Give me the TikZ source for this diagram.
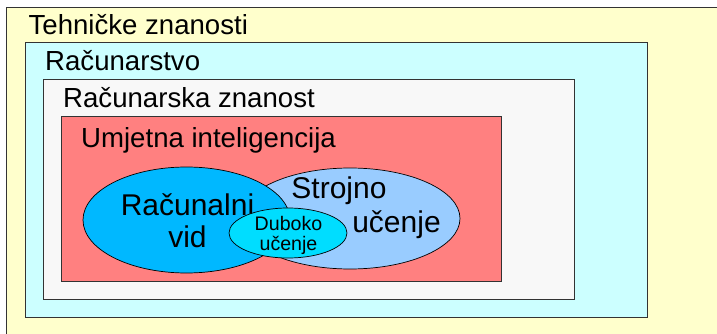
\documentclass[tikz,border=0pt]{standalone}
\usepackage{fontspec}
\setmainfont{Liberation Sans}
\usetikzlibrary{shapes.geometric}
\definecolor{cyel}{HTML}{FFFFCC}
\definecolor{ccyan}{HTML}{CCFFFF}
\definecolor{cgray}{HTML}{F8F8F8}
\definecolor{cred}{HTML}{FF8080}
\definecolor{cblue}{HTML}{00B8FF}
\definecolor{clblue}{HTML}{99CCFF}
\definecolor{cdeep}{HTML}{00DDFF}
\definecolor{cline}{HTML}{333333}
\tikzset{
  box/.style={draw=cline, line width=0.8pt},
  ell/.style={ellipse, draw=black, line width=0.7pt, inner sep=0pt},
  title/.style={anchor=base west, inner sep=0pt, font=\fontsize{27.6}{30}\selectfont},
  big/.style={anchor=base, inner sep=0pt, font=\fontsize{30}{32}\selectfont},
  small/.style={anchor=base, inner sep=0pt, font=\fontsize{19.6}{21}\selectfont},
}
\begin{document}
\begin{tikzpicture}[x=1pt,y=-1pt]
\useasboundingbox (0,0) rectangle (717,334);
\fill[white] (0,0) rectangle (717,334);
% boxes
\draw[box, fill=cyel] (6.5,7) -- (6.5,340) -- (725,340) -- (725,7) -- cycle;
\draw[box, fill=ccyan] (25,42) rectangle (647,317);
\draw[box, fill=cgray] (43,79) rectangle (574,299);
\draw[box, fill=cred] (61,116) rectangle (501,281);
% titles
\node[title] (t1) at (28.4,35) {Tehničke znanosti};
\node[title] (t2) at (45,71) {Računarstvo};
\node[title] (t3) at (63,107.5) {Računarska znanost};
\node[title] (t4) at (81,147) {Umjetna inteligencija};
% ellipses
\node[ell, fill=clblue, minimum width=220pt, minimum height=101pt] (ml) at (350,218.5) {};
\node[ell, fill=cblue, minimum width=207pt, minimum height=106pt] (cv) at (186.5,220) {};
\node[big] (cv1) at (187.5,215) {Računalni};
\node[big] (cv2) at (187.5,247) {vid};
\node[big] (ml1) at (339,198) {Strojno};
\node[big] (ml2) at (396.5,232) {učenje};
\node[ell, fill=cdeep, minimum width=118pt, minimum height=50pt] (dl) at (288,233) {};
\node[small] (dl1) at (288.5,230) {Duboko};
\node[small] (dl2) at (288.5,250) {učenje};
\end{tikzpicture}
\end{document}
